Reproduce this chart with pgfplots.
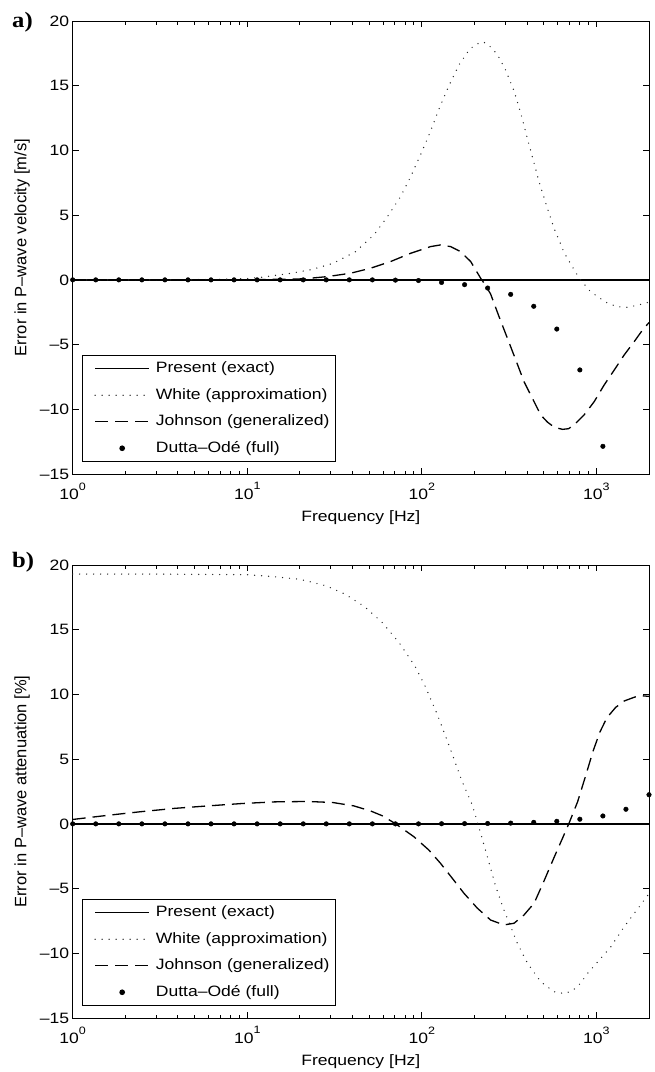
\documentclass[border=0pt]{standalone}
\usepackage{fontspec}
\setmainfont{Liberation Sans}[FakeStretch=1.17]
\newfontfamily\ylfont{Liberation Sans}
\newfontfamily\lblfont{Liberation Serif}[FakeStretch=1.12]
\usepackage{pgfplots}
\pgfplotsset{compat=1.18}
\usepackage{pgfplotstable}

\pgfplotstableread{
f v
1 0
3.162 0
6.31 0.03
10 0.1
12.41 0.22
17.26 0.48
23.5 0.8
31.26 1.3
41.69 2.18
53.09 3.47
63.24 4.85
75.51 6.43
86.1 7.95
99.3 9.8
112.2 11.5
125.3 13.2
142.9 15.0
162.9 16.6
186.2 17.75
199.5 18.1
217.3 18.36
223.9 18.38
239.3 18.2
271.0 17.4
302.0 16.2
337.3 14.6
368.1 12.9
402.7 10.9
439.5 9.0
468.8 7.6
512.9 5.9
571.5 4.0
653.1 2.1
762.1 0.55
812.8 0.0
907.8 -0.8
1014 -1.3
1159 -1.8
1321 -2.08
1507 -2.12
1722 -1.96
1963 -1.75
2000 -1.72
}\whiteA

\pgfplotstableread{
f v
1 0
10 0
21.04 0.08
28.64 0.25
38.99 0.51
50.82 0.9
66.07 1.41
86.1 2.05
112.2 2.57
127.9 2.7
146.2 2.57
166.7 2.18
190.5 1.41
217.3 0.12
232.3 -0.45
247.7 -1.1
276.7 -2.84
309.0 -4.51
345.1 -6.19
384.6 -7.86
429.5 -9.15
479.7 -10.44
524.8 -11.0
575.4 -11.4
639.7 -11.55
691.8 -11.5
744.7 -11.21
849.2 -10.44
970.5 -9.41
1107 -8.12
1265 -6.96
1442 -5.8
1644 -4.78
1837 -3.87
2000 -3.3
}\johnA

\pgfplotstableread{
f v
1 0
1.3553 0
1.8369 0
2.4895 0
3.3740 0
4.5731 0
6.1977 0
8.3999 0
11.385 0
15.430 0
20.913 0
28.343 0
38.413 0
52.063 0
70.562 -0.02
95.635 -0.05
129.62 -0.2
175.67 -0.37
238.09 -0.63
322.69 -1.12
437.35 -2.04
592.75 -3.8
803.4 -6.96
1088.7 -12.86
}\dotsA

\pgfplotstableread{
f v
1 19.3
3.162 19.3
10 19.25
14.13 19.1
19.95 18.9
28.18 18.4
36.31 17.75
46.77 16.8
58.88 15.6
74.13 14.0
91.2 12.2
104.7 10.6
123.0 8.4
144.5 5.9
169.8 3.3
194.5 1.46
217.3 -0.73
237.1 -2.53
264.9 -4.85
295.1 -6.65
322.8 -7.94
352.4 -9.23
402.7 -10.77
479.7 -12.2
571.5 -12.97
660.7 -13.12
741.3 -12.8
812.8 -12.3
889.2 -11.55
1211 -9.49
1442 -7.94
1660 -6.85
1879 -5.88
2000 -5.4
}\whiteB

\pgfplotstableread{
f v
1 0.34
1.585 0.66
2.455 0.94
3.846 1.2
5.97 1.39
9.27 1.57
14.39 1.7
22.28 1.73
30.9 1.65
40.74 1.39
50.82 1.0
59.98 0.6
70.8 0.0
89.95 -0.99
109.6 -2.02
127.9 -3.05
149.3 -4.2
174.2 -5.36
208.0 -6.52
247.7 -7.43
295.1 -7.81
337.3 -7.68
384.6 -7.04
439.5 -6.13
501.2 -4.4
571.5 -2.6
639.7 -1.1
696.6 0.05
779.8 1.7
871.0 3.8
955.0 5.6
1047 7.1
1148 8.2
1288 9.0
1445 9.5
1660 9.8
1820 9.9
2000 9.85
}\johnB

\pgfplotstableread{
f v
1 0
1.3553 0
1.8369 0
2.4895 0
3.3740 0
4.5731 0
6.1977 0
8.3999 0
11.385 0
15.430 0
20.913 0
28.343 0
38.413 0
52.063 0
70.562 0
95.635 0
129.62 0.01
175.67 0.02
238.09 0.03
322.69 0.06
437.35 0.12
592.75 0.2
803.4 0.36
1088.7 0.61
1475.6 1.13
2000 2.25
}\dotsB

\newcommand{\tkl}[1]{10\raisebox{0.64em}{\fontsize{10.7}{10.7}\selectfont #1}}
\newcommand{\fs}{\fontsize{15}{15}\selectfont}
\newcommand{\yfs}{\ylfont\fontsize{16.5}{16.5}\selectfont}

\begin{document}
\begin{tikzpicture}
\useasboundingbox (0,0) rectangle (654pt,-1072pt);

\node[anchor=north west, inner sep=0pt, font=\lblfont\bfseries\fontsize{22}{22}\selectfont] at (12pt,-12pt) {a)};
\node[anchor=north west, inner sep=0pt, font=\lblfont\bfseries\fontsize{22}{22}\selectfont] at (12pt,-552pt) {b)};

\begin{axis}[at={(72.7pt,-474pt)}, anchor=south west,
    xmode=log, scale only axis, width=576.3pt, height=453pt,
    xmin=1, xmax=2000, ymin=-15, ymax=20,
    xtick={1,10,100,1000},
    xticklabels={\tkl{0},\tkl{1},\tkl{2},\tkl{3}},
    minor xtick={2,3,4,5,6,7,8,9,20,30,40,50,60,70,80,90,200,300,400,500,600,700,800,900},
    ytick={-15,-10,-5,0,5,10,15,20},
    yticklabels={\textendash15,\textendash10,\textendash5,0,5,10,15,20},
    tick align=inside,
    major tick length=6pt, minor tick length=3.5pt,
    tick style={black, line width=0.8pt},
    axis line style={line width=1pt},
    ticklabel style={font=\fs},
    xticklabel style={yshift=-5pt},
    clip=false,
    legend cell align=left,
    legend image code/.code={\path (0pt,0pt); \draw[mark repeat=2,mark phase=2,#1]
      plot coordinates {(8pt,0pt) (35pt,0pt) (62pt,0pt)};},
    legend style={at={(0.0161,0.0265)}, anchor=south west,
      draw=black, line width=1pt, fill=white, font=\fs,
      inner xsep=4pt, inner ysep=4pt, row sep=8pt, column sep=4pt,
      nodes={inner sep=2pt, text height=11pt, text depth=3.5pt}},
    xlabel={Frequency [Hz]},
    ylabel={Error in P\textendash wave velocity [m/s]},
    xlabel style={at={(rel axis cs:0.5,0)}, anchor=center, yshift=-44pt, font=\fs},
    ylabel style={at={(rel axis cs:0,0.5)}, anchor=center, yshift=50.7pt, font=\yfs},
]
\addplot[black, line width=1.4pt, solid] coordinates {(1,0) (2000,0)};
\addlegendentry{Present (exact)}
\addplot[black!85, line width=1.4pt, line cap=round, dash pattern=on 0pt off 7pt] table[x=f,y=v] {\whiteA};
\addlegendentry{White (approximation)}
\addplot[black, line width=1.3pt, dash pattern=on 13pt off 7pt] table[x=f,y=v] {\johnA};
\addlegendentry{Johnson (generalized)}
\addplot[black, only marks, mark=*, mark size=2.3pt] table[x=f,y=v] {\dotsA};
\addlegendentry{Dutta\textendash Odé (full)}
\end{axis}

\begin{axis}[at={(72.7pt,-1018pt)}, anchor=south west,
    xmode=log, scale only axis, width=576.3pt, height=453pt,
    xmin=1, xmax=2000, ymin=-15, ymax=20,
    xtick={1,10,100,1000},
    xticklabels={\tkl{0},\tkl{1},\tkl{2},\tkl{3}},
    minor xtick={2,3,4,5,6,7,8,9,20,30,40,50,60,70,80,90,200,300,400,500,600,700,800,900},
    ytick={-15,-10,-5,0,5,10,15,20},
    yticklabels={\textendash15,\textendash10,\textendash5,0,5,10,15,20},
    tick align=inside,
    major tick length=6pt, minor tick length=3.5pt,
    tick style={black, line width=0.8pt},
    axis line style={line width=1pt},
    ticklabel style={font=\fs},
    xticklabel style={yshift=-5pt},
    clip=false,
    legend cell align=left,
    legend image code/.code={\path (0pt,0pt); \draw[mark repeat=2,mark phase=2,#1]
      plot coordinates {(8pt,0pt) (35pt,0pt) (62pt,0pt)};},
    legend style={at={(0.0161,0.0265)}, anchor=south west,
      draw=black, line width=1pt, fill=white, font=\fs,
      inner xsep=4pt, inner ysep=4pt, row sep=8pt, column sep=4pt,
      nodes={inner sep=2pt, text height=11pt, text depth=3.5pt}},
    xlabel={Frequency [Hz]},
    ylabel={Error in P\textendash wave attenuation [\%]},
    xlabel style={at={(rel axis cs:0.5,0)}, anchor=center, yshift=-44pt, font=\fs},
    ylabel style={at={(rel axis cs:0,0.5)}, anchor=center, yshift=50.7pt, font=\yfs},
]
\addplot[black, line width=1.4pt, solid] coordinates {(1,0) (2000,0)};
\addlegendentry{Present (exact)}
\addplot[black!85, line width=1.4pt, line cap=round, dash pattern=on 0pt off 7pt] table[x=f,y=v] {\whiteB};
\addlegendentry{White (approximation)}
\addplot[black, line width=1.3pt, dash pattern=on 13pt off 7pt] table[x=f,y=v] {\johnB};
\addlegendentry{Johnson (generalized)}
\addplot[black, only marks, mark=*, mark size=2.3pt] table[x=f,y=v] {\dotsB};
\addlegendentry{Dutta\textendash Odé (full)}
\end{axis}
\end{tikzpicture}
\end{document}
